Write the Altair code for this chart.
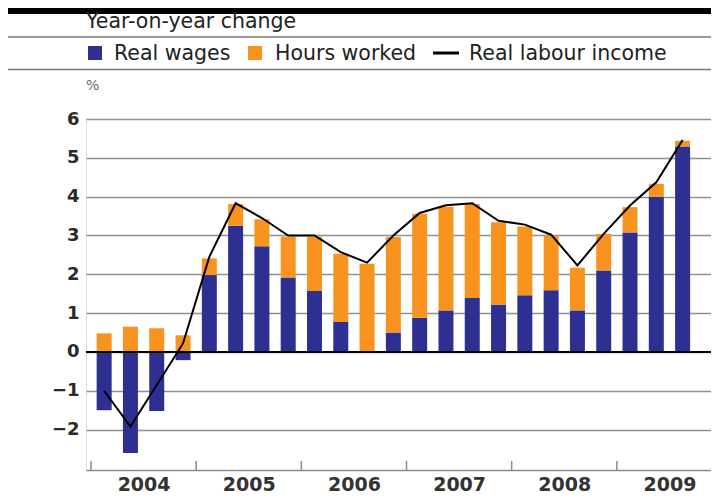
import altair as alt
import pandas as pd

quarters = ["2004Q1", "2004Q2", "2004Q3", "2004Q4",
            "2005Q1", "2005Q2", "2005Q3", "2005Q4",
            "2006Q1", "2006Q2", "2006Q3", "2006Q4",
            "2007Q1", "2007Q2", "2007Q3", "2007Q4",
            "2008Q1", "2008Q2", "2008Q3", "2008Q4",
            "2009Q1", "2009Q2", "2009Q3"]
real_wages = [-1.50, -2.60, -1.52, -0.21,
              1.98, 3.25, 2.72, 1.92,
              1.57, 0.77, 0.00, 0.50,
              0.88, 1.07, 1.39, 1.22,
              1.46, 1.59, 1.07, 2.10,
              3.08, 4.00, 5.29]
hours_worked = [0.48, 0.65, 0.61, 0.43,
                0.43, 0.56, 0.70, 1.05,
                1.40, 1.76, 2.27, 2.46,
                2.68, 2.67, 2.42, 2.12,
                1.77, 1.41, 1.10, 0.94,
                0.65, 0.33, 0.15]
real_labour_income = [-1.00, -1.92, -0.85, 0.22,
                      2.45, 3.83, 3.45, 3.00,
                      3.00, 2.57, 2.30, 3.00,
                      3.58, 3.78, 3.83, 3.38,
                      3.28, 3.02, 2.23, 3.04,
                      3.77, 4.37, 5.46]
years = ["2004", "2005", "2006", "2007", "2008", "2009"]
series_names = ["Real wages", "Hours worked"]
series_colors = ["#2d3091", "#f7931e"]

FONT = "DejaVu Sans"
W, H = 625, 351
LEFT = 78
TOP = 111
DY = 2  # header offset so header stays at its page position

rows = []
for i, q in enumerate(quarters):
    rows.append({"q": q, "xpos": i + 0.5, "series": "Real wages", "ord": 0, "value": real_wages[i]})
    rows.append({"q": q, "xpos": i + 0.5, "series": "Hours worked", "ord": 1, "value": hours_worked[i]})
bars_df = pd.DataFrame(rows)
line_df = pd.DataFrame({"q": quarters, "xpos": [i + 0.5 for i in range(len(quarters))],
                        "income": real_labour_income})
ticks_df = pd.DataFrame({"t": [4 * k for k in range(len(years))]})

year_arr = "[" + ",".join("'" + y + "'" for y in years) + "]"
xscale = alt.Scale(domain=[0, 23.39], nice=False, zero=False)
yscale = alt.Scale(domain=[-3.04, 6], nice=False, zero=False)

bars = alt.Chart(bars_df).mark_bar(size=15).encode(
    x=alt.X("xpos:Q", scale=xscale,
            axis=alt.Axis(values=[4 * k + 2 for k in range(len(years))],
                          labelExpr=year_arr + "[(datum.value - 2) / 4]",
                          ticks=False, grid=False, domain=True,
                          domainColor="#8a8a8a", domainWidth=1.5,
                          labelFontSize=19, labelFontWeight="bold", labelColor="#333333",
                          labelFont=FONT, labelPadding=5, title=None)),
    y=alt.Y("value:Q", stack="zero", scale=yscale,
            axis=alt.Axis(values=list(range(-2, 7)), format="d", grid=True,
                          gridColor="#909090", gridWidth=1.4, domain=False, ticks=False,
                          labelFontSize=18, labelFontWeight="bold", labelColor="#2a2a2a",
                          labelFont=FONT, labelPadding=7, title=None)),
    color=alt.Color("series:N", scale=alt.Scale(domain=series_names, range=series_colors), legend=None),
    order=alt.Order("ord:Q"),
)

zero_rule = alt.Chart(alt.Data(values=[{}])).mark_rule(color="black", strokeWidth=2).encode(
    y=alt.datum(0, scale=yscale)
)

line = alt.Chart(line_df).mark_line(color="black", strokeWidth=2).encode(
    x=alt.X("xpos:Q", scale=xscale),
    y=alt.Y("income:Q", scale=yscale),
)

xticks = alt.Chart(ticks_df).mark_rule(color="#8a8a8a", strokeWidth=1.5).encode(
    x=alt.X("t:Q", scale=xscale),
    y=alt.value(H),
    y2=alt.value(H - 9),
)

def blank():
    return alt.Chart(alt.Data(values=[{}]))

def hline(y, width, color):
    return blank().mark_rule(color=color, strokeWidth=width).encode(
        x=alt.value(-LEFT), x2=alt.value(W), y=alt.value(y + DY))

def label(text, x, y, size=20.5, color="#222222", baseline="middle"):
    return blank().mark_text(text=text, align="left", baseline=baseline, fontSize=size,
                             font=FONT, color=color).encode(x=alt.value(x), y=alt.value(y + DY))

def square(x, y, color):
    return blank().mark_square(size=196, color=color, opacity=1).encode(
        x=alt.value(x), y=alt.value(y + DY))

header = [
    hline(-110, 6, "black"),
    label("Year-on-year change", 0, -93, baseline="alphabetic"),
    hline(-84, 1.5, "#7a7a7a"),
    square(9, -68, series_colors[0]),
    label(series_names[0], 28, -67),
    square(169, -68, series_colors[1]),
    label(series_names[1], 189, -67),
    blank().mark_rule(color="black", strokeWidth=3).encode(
        x=alt.value(347), x2=alt.value(373), y=alt.value(-68 + DY)),
    label("Real labour income", 383, -67),
    hline(-51.5, 1.5, "#7a7a7a"),
    label("%", 0, -35, size=14, color="#666666"),
]

chart = alt.layer(bars, zero_rule, line, xticks, *header).properties(
    width=W, height=H,
    autosize=alt.AutoSizeParams(type="none"),
    padding={"left": LEFT, "top": TOP, "right": 0, "bottom": 24},
).configure_view(stroke=None).configure(background="white")

chart.save("out.html", embed_options={"renderer": "svg", "actions": False})
